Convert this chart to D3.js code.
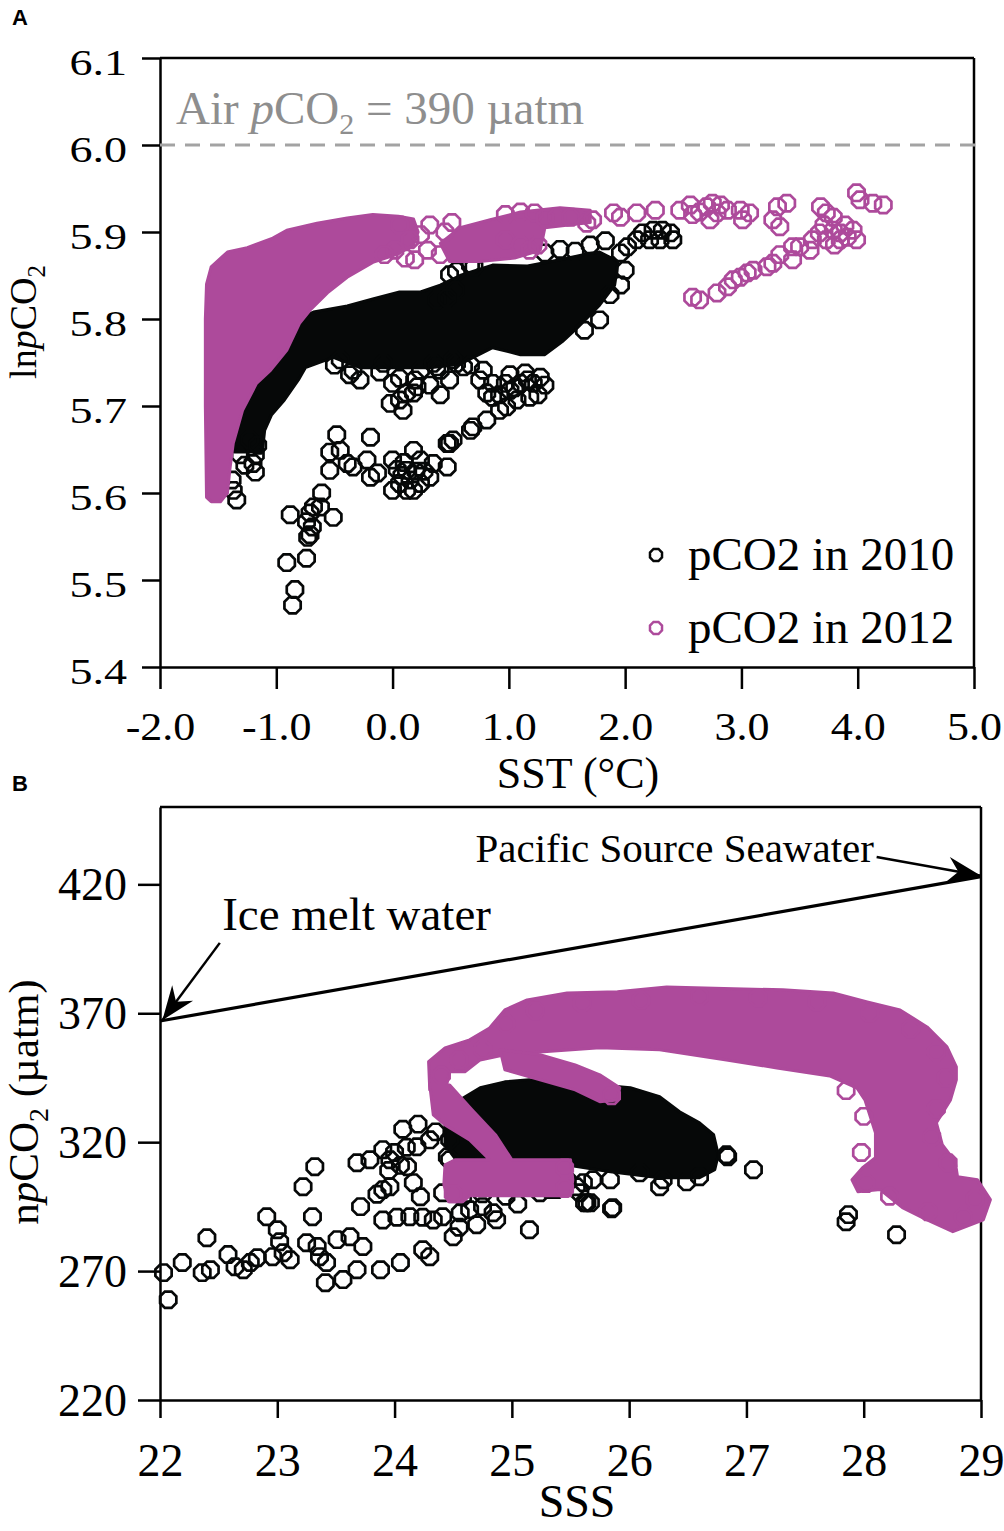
<!DOCTYPE html>
<html>
<head>
<meta charset="utf-8">
<script src="https://d3js.org/d3.v7.min.js"></script>
<style>
  body { margin: 0; background: #fff; }
  svg text { font-family: "Liberation Serif", "Times New Roman", serif; }
</style>
</head>
<body>
<svg id="chart" width="1004" height="1531"></svg>
<script>
// ---- tick values ----
var sstTicks = [-2, -1, 0, 1, 2, 3, 4, 5];
var lnTicks = [5.4, 5.5, 5.6, 5.7, 5.8, 5.9, 6.0, 6.1];
var sssTicks = [22, 23, 24, 25, 26, 27, 28, 29];
var npTicks = [220, 270, 320, 370, 420];

var airLnPCO2 = 6.0;                    // ln(390)
var mixLine = [[22, 367], [29, 423]];   // ice melt -> pacific end members

// ---- panel A: SST vs lnpCO2 ----
// outline of the solid (overplotted) part of each cloud
var coreA2010 = [[-1.36,5.647],[-1.12,5.647],[-1.10,5.672],[-1.04,5.690],[-0.93,5.707],[-0.81,5.730],[-0.75,5.744],
  [-0.51,5.756],[-0.28,5.744],[0.02,5.744],[0.32,5.744],[0.58,5.748],[0.86,5.767],[1.10,5.759],[1.31,5.759],
  [1.46,5.774],[1.59,5.790],[1.78,5.816],[1.91,5.839],[1.94,5.866],[1.78,5.877],[1.68,5.875],[1.44,5.868],
  [1.16,5.861],[0.86,5.862],[0.58,5.850],[0.41,5.839],[0.24,5.831],[0.06,5.831],[-0.17,5.823],[-0.39,5.815],
  [-0.68,5.808],[-0.80,5.801],[-0.88,5.782],[-1.01,5.759],[-1.12,5.736],[-1.23,5.713],[-1.31,5.695],[-1.37,5.672]];
var coreA2012a = [[-1.60,5.595],[-1.61,5.70],[-1.61,5.80],[-1.60,5.84],[-1.56,5.86],[-1.42,5.877],[-1.25,5.882],
  [-1.03,5.893],[-0.91,5.902],[-0.65,5.91],[-0.39,5.916],[-0.17,5.92],[0.05,5.918],[0.18,5.915],[0.22,5.90],
  [0.18,5.885],[0.05,5.875],[-0.17,5.865],[-0.39,5.848],[-0.56,5.83],[-0.71,5.81],[-0.80,5.795],[-0.91,5.764],
  [-1.05,5.741],[-1.17,5.726],[-1.29,5.695],[-1.37,5.657],[-1.40,5.626],[-1.42,5.60],[-1.48,5.59],[-1.56,5.59]];
var coreA2012b = [[0.41,5.887],[0.58,5.905],[0.84,5.914],[1.10,5.923],[1.44,5.928],[1.70,5.925],[1.70,5.911],
  [1.31,5.905],[1.27,5.879],[1.05,5.87],[0.75,5.866],[0.49,5.866]];

var ptsA2010 = [[-1.34,5.592],[-1.37,5.603],[-1.38,5.615],[-1.18,5.624],[-1.20,5.634],[-1.27,5.632],[-1.31,5.644],
  [-1.18,5.644],[-1.23,5.661],[-1.16,5.655],
  [-0.88,5.575],[-0.74,5.567],[-0.69,5.561],[-0.71,5.552],[-0.73,5.549],[-0.74,5.525],[-0.91,5.520],[-0.84,5.489],
  [-0.86,5.471],[-0.71,5.577],[-0.68,5.584],[-0.61,5.600],[-0.62,5.584],[-0.54,5.626],[-0.51,5.572],[-0.48,5.667],
  [-0.54,5.647],[-0.45,5.649],[-0.39,5.634],[-0.34,5.630],[-0.19,5.664],[-0.22,5.638],[-0.19,5.618],[-0.13,5.623],
  [0.00,5.638],[0.00,5.603],[0.06,5.611],[0.12,5.626],[0.18,5.649],[0.24,5.638],[0.24,5.611],[0.32,5.618],
  [0.35,5.634],[0.47,5.630],[0.49,5.657],[0.12,5.603],[0.18,5.603],[0.08,5.62],[0.15,5.615],[0.20,5.625],
  [0.10,5.635],[0.27,5.625],[0.04,5.627],
  [0.67,5.672],[0.81,5.684],[0.86,5.710],[0.92,5.695],[1.01,5.718],[1.10,5.726],[1.21,5.726],[1.27,5.733],
  [1.07,5.707],[1.18,5.710],[0.98,5.699],[0.92,5.713],[1.05,5.721],[1.14,5.738],[1.31,5.724],[1.25,5.713],
  [1.01,5.736],[0.97,5.726],[1.16,5.730],[0.69,5.676],[0.47,5.657],[0.52,5.661],
  [-0.45,5.753],[-0.34,5.741],[-0.28,5.730],[-0.08,5.749],[0.00,5.726],[0.06,5.707],[0.09,5.695],[0.18,5.715],
  [0.24,5.741],[0.35,5.749],[0.41,5.741],[0.55,5.749],[0.61,5.745],[0.78,5.741],[0.81,5.715],[0.86,5.726],
  [-0.02,5.703],[0.12,5.715],[0.21,5.722],[0.38,5.745],[0.52,5.753],
  [-0.50,5.747],[-0.37,5.736],[-0.11,5.739],[0.06,5.732],[0.19,5.730],[0.32,5.724],[0.41,5.713],[0.49,5.730],
  [0.67,5.747],[0.75,5.730],
  [1.96,5.876],[2.02,5.883],[2.10,5.891],[2.15,5.899],[2.24,5.902],[2.32,5.902],[2.39,5.899],[2.41,5.891],
  [2.30,5.891],[2.21,5.891],[2.00,5.856],[1.96,5.839],[1.87,5.828],[1.78,5.799],[1.65,5.787],
  [1.31,5.876],[1.44,5.88],[1.57,5.878],[1.70,5.885],[1.83,5.89],[0.55,5.855],[0.70,5.86],[0.67,5.862],
  [0.49,5.851],[0.54,5.833],[0.38,5.822],[0.47,5.824]];

var ptsA2012 = [[0.24,5.897],[0.32,5.908],[0.30,5.879],[0.41,5.874],[0.19,5.868],[0.45,5.90],[0.51,5.911],
  [0.06,5.908],[0.15,5.891],[0.02,5.879],[0.11,5.870],[-0.07,5.874],
  [0.97,5.891],[1.10,5.885],[1.18,5.879],[1.25,5.885],
  [0.97,5.92],[1.10,5.923],[1.22,5.922],[1.31,5.916],[1.41,5.917],[1.53,5.917],[1.67,5.910],[1.72,5.914],
  [1.90,5.922],[1.96,5.917],[2.10,5.922],[2.26,5.925],[2.47,5.925],[2.58,5.920],[2.70,5.929],[2.79,5.922],
  [2.75,5.933],[2.88,5.925],[2.99,5.925],[3.07,5.922],[3.01,5.914],[2.56,5.931],[2.64,5.923],[2.73,5.914],
  [2.82,5.931],[3.31,5.929],[3.39,5.933],[3.27,5.914],[3.33,5.906],
  [3.68,5.929],[3.99,5.945],[4.02,5.937],[4.13,5.933],[4.22,5.931],
  [2.58,5.825],[2.64,5.822],[2.79,5.830],[2.88,5.837],[2.93,5.845],[2.99,5.848],[3.05,5.853],[3.10,5.856],
  [3.22,5.860],[3.27,5.864],[3.44,5.868],[3.44,5.883],[3.50,5.883],[3.61,5.891],[3.67,5.899],[3.73,5.891],
  [3.79,5.902],[3.85,5.899],[3.91,5.894],[3.96,5.902],[3.99,5.891],[3.79,5.917],[3.73,5.922],[3.71,5.908],
  [3.85,5.891],[3.80,5.885],[3.89,5.908],[3.59,5.879],[3.33,5.874]];

// ---- panel B: SSS vs npCO2 ----
var coreB2010 = [[24.43,328.7],[24.56,336.4],[24.73,341.1],[24.94,343.4],[25.15,344.2],[25.41,343.0],[25.75,342.2],
  [26.01,341.1],[26.26,337.6],[26.43,331.8],[26.60,327.5],[26.72,322.9],[26.76,315.1],[26.73,309.3],[26.60,306.2],
  [26.26,306.2],[25.84,308.5],[25.50,310.9],[25.24,312.4],[24.98,313.2],[24.73,313.2],[24.51,314.0],[24.43,319.0]];
var coreB2012arch = [[24.30,340.3],[24.29,351.2],[24.43,356.6],[24.64,359.7],[24.81,364.3],[24.94,371.3],[25.13,375.2],
  [25.47,377.9],[25.90,378.3],[26.32,380.2],[26.89,379.5],[27.31,379.1],[27.74,377.9],[28.03,374.4],[28.31,371.3],
  [28.54,364.7],[28.71,357.0],[28.79,349.2],[28.79,344.2],[28.74,336.4],[28.62,327.5],[28.67,319.0],[28.78,312.4],
  [28.80,306.6],[28.97,305.4],[29.08,297.7],[29.02,289.9],[28.76,285.3],[28.54,289.9],[28.33,294.6],[28.14,301.6],
  [27.95,300.8],[27.90,305.4],[27.99,310.1],[28.10,314.0],[28.10,323.6],[28.01,336.4],[27.94,341.1],[27.71,345.7],
  [27.26,348.8],[26.83,351.9],[26.26,355.8],[25.75,356.6],[25.24,355.0],[24.94,353.9],[24.73,351.9],[24.60,347.3],
  [24.47,347.3],[24.43,339.5]];
var coreB2012branch = [[24.90,355.8],[25.24,353.9],[25.54,350.0],[25.75,346.1],[25.92,341.1],[25.90,336.4],
  [25.75,335.7],[25.54,340.3],[25.24,344.2],[24.94,348.1]];
var coreB2012hook = [[24.30,342.2],[24.47,342.2],[24.66,332.6],[24.86,322.9],[25.00,313.2],[25.50,313.2],[25.52,305.4],
  [25.50,299.2],[24.64,299.2],[24.58,296.9],[24.46,296.9],[24.42,303.5],[24.43,311.2],[24.52,313.2],[24.81,313.2],
  [24.64,320.9],[24.43,326.7],[24.33,330.6]];

var ptsB2010 = [[22.03,269.4],[22.07,258.9],[22.19,273.3],[22.36,269.4],[22.43,270.5],[22.40,282.9],[22.58,276.4],
  [22.64,271.7],[22.71,270.5],[22.77,273.3],[22.83,275.2],[22.91,291.1],[23.00,286.0],[23.02,281.4],[22.96,275.6],
  [23.05,277.1],[23.11,274.4],[23.22,302.7],[23.30,291.1],[23.32,310.5],[23.25,281.0],[23.34,279.5],[23.36,275.6],
  [23.42,273.3],[23.41,265.5],[23.56,266.7],[23.68,270.5],[23.51,282.2],[23.62,283.3],[23.73,279.5],[23.88,270.5],
  [24.05,273.3],[23.71,295.0],[23.68,312.0],[23.79,313.2],[23.90,317.1],[23.96,313.2],[23.90,301.6],[23.96,302.7],
  [23.85,299.8],[23.90,289.8],[24.02,290.9],[24.13,291.1],[24.24,290.9],[24.33,289.8],[24.16,304.3],[24.22,298.8],
  [24.19,318.2],[24.30,320.9],[24.11,310.5],[24.24,278.3],[24.30,275.6],[24.41,291.1],[24.50,283.3],[24.56,292.6],
  [24.64,293.8],[24.75,295.0],[24.84,292.6],[24.87,289.9],[25.15,286.0],[24.41,300.4],[24.58,298.8],[24.92,305.4],
  [25.32,301.6],[25.61,304.3],[25.64,296.5],[24.45,314.3],[24.47,313.2],[24.64,310.5],
  [24.07,325.0],[24.20,327.0],[24.35,324.0],[24.47,321.0],[24.00,316.0],[24.10,318.0],[23.95,309.0],[24.05,311.0],
  [24.60,302.0],[24.75,300.0],[24.95,299.0],[25.05,296.0],[24.70,288.0],[24.55,287.0],
  [27.85,289.1],[27.87,291.9],[28.28,284.1],[27.06,309.3],[25.85,294.2],[26.84,314.3],[26.83,315.1],
  [25.62,296.5],[25.86,294.6],[26.26,302.7],[26.09,308.1],[26.49,304.6],[26.60,306.6],
  [25.55,302.7],[25.69,305.4],[25.84,305.4],[26.29,305.4],[25.04,304.3],[25.24,300.4],[25.38,301.6],[25.47,305.4],
  [25.58,300.4],[25.67,296.5]];

var ptsB2012 = [[24.40,346],[24.55,352],[24.75,356],[24.95,366],[25.2,371],[25.6,374],[26.1,375],[26.6,376.5],
  [27.1,376],[27.6,374.5],[28.05,370],[28.4,364],[28.62,355],[28.7,345],[28.62,333],[28.58,322],[28.72,312],
  [28.95,298],[28.85,291],[28.55,293],[28.22,299],[28.02,304],[27.98,316],[28.0,330],[27.85,340],[24.50,300],
  [25.45,302],[25.45,310],[25.85,338]];

// ---- legend / annotation text ----
var seriesNames = ["pCO2 in 2010", "pCO2 in 2012"];
var notesB = [
  {text: "Ice melt water", size: 47, tx: 22.53, ty: 402.3, from: [22.51, 397.3], to: [22.02, 367.3]},
  {text: "Pacific Source Seawater", size: 41, tx: 24.69, ty: 428.7, from: [28.11, 430.6], to: [29.0, 423.3]}
];

var C2010 = "#060808", C2012 = "#ad4a9b";
var svg = d3.select("#chart");

function octagon(r) {
  var p = [];
  for (var k = 0; k < 8; k++) {
    var a = Math.PI / 8 + k * Math.PI / 4;
    p.push((r * Math.cos(a)).toFixed(2) + "," + (r * Math.sin(a)).toFixed(2));
  }
  return "M" + p.join("L") + "Z";
}
var oct = octagon(8.8);
var fmt1 = function (d) { return d.toFixed(1); };   // plain hyphen for negatives

var defs = svg.append("defs");
defs.append("marker").attr("id", "arrow").attr("markerUnits", "userSpaceOnUse")
  .attr("viewBox", "-36 -16 38 32").attr("refX", 0).attr("refY", 0)
  .attr("markerWidth", 38).attr("markerHeight", 32).attr("orient", "auto")
  .append("path").attr("d", "M0,0L-34,-13L-23,0L-34,13Z").attr("fill", "#000");

function stretchText(sel, k) {
  sel.each(function () {
    var w = this.getComputedTextLength();
    d3.select(this).attr("textLength", w * k).attr("lengthAdjust", "spacingAndGlyphs");
  });
}

function drawAxes(x, y, o) {
  var g = svg.append("g");
  var x0 = x.range()[0], x1 = x.range()[1], y0 = y.range()[0], y1 = y.range()[1];
  g.append("line").attr("x1", x0).attr("x2", x1).attr("y1", y1).attr("y2", y1)
    .attr("stroke", "#000").attr("stroke-width", 2.5);
  g.append("line").attr("x1", x1).attr("x2", x1).attr("y1", y0).attr("y2", y1)
    .attr("stroke", "#000").attr("stroke-width", 2.5);

  var gx = g.append("g").attr("transform", "translate(0," + y0 + ")")
    .call(d3.axisBottom(x).tickValues(o.xt).tickFormat(o.xf).tickSize(o.xTick).tickSizeOuter(0));
  var gy = g.append("g").attr("transform", "translate(" + x0 + ",0)")
    .call(d3.axisLeft(y).tickValues(o.yt).tickFormat(o.yf).tickSize(o.yTick).tickSizeOuter(0));
  [gx, gy].forEach(function (a) {
    a.selectAll("path, line").attr("stroke", "#000").attr("stroke-width", 2.5);
    a.selectAll("text").attr("fill", "#000")
      .style("font-family", '"Liberation Serif", "Times New Roman", serif');
  });
  gx.selectAll("text").attr("y", o.xLab).attr("dy", 0).style("font-size", o.xFont + "px");
  gy.selectAll("text").attr("x", -33).attr("dy", o.yDy).style("font-size", o.yFont + "px");
  if (o.xStretch) stretchText(gx.selectAll("text"), o.xStretch);
  if (o.yStretch) stretchText(gy.selectAll("text"), o.yStretch);
}

function drawCloud(g, x, y, cores, pts, color) {
  var line = d3.line().x(function (d) { return x(d[0]); }).y(function (d) { return y(d[1]); })
    .curve(d3.curveLinearClosed);
  g.selectAll(null).data(cores).enter().append("path")
    .attr("d", line).attr("fill", color).attr("stroke", color)
    .attr("stroke-width", 3).attr("stroke-linejoin", "round");
  g.selectAll(null).data(pts).enter().append("path")
    .attr("d", oct)
    .attr("transform", function (d) { return "translate(" + x(d[0]) + "," + y(d[1]) + ")"; })
    .attr("fill", "none").attr("stroke", color).attr("stroke-width", 2.7);
}

// =============== Panel A ===============
var xA = d3.scaleLinear().domain([-2, 5]).range([160, 974]);
var yA = d3.scaleLinear().domain([5.4, 6.1]).range([667, 58]);

drawAxes(xA, yA, {
  xt: sstTicks, yt: lnTicks, xf: fmt1, yf: fmt1,
  xTick: 22, yTick: 18, xLab: 73, yDy: 16, xFont: 40, yFont: 36, xStretch: 1.1, yStretch: 1.28
});

var gA = svg.append("g");
gA.append("line")
  .attr("x1", xA(-2)).attr("x2", xA(5) + 4)
  .attr("y1", yA(airLnPCO2)).attr("y2", yA(airLnPCO2))
  .attr("stroke", "#a3a3a3").attr("stroke-width", 3).attr("stroke-dasharray", "15,10");
var air = gA.append("text").attr("x", xA(-2) + 16).attr("y", yA(airLnPCO2) - 21)
  .attr("fill", "#8e8e8e").style("font-size", "47px");
air.append("tspan").text("Air ");
air.append("tspan").style("font-style", "italic").text("p");
air.append("tspan").text("CO");
air.append("tspan").attr("dy", 10).style("font-size", "30px").text("2");
air.append("tspan").attr("dy", -10).text(" = 390 \u00b5atm");

drawCloud(gA.append("g"), xA, yA, [coreA2010], ptsA2010, C2010);
drawCloud(gA.append("g"), xA, yA, [coreA2012a, coreA2012b], ptsA2012, C2012);

// legend
var leg = svg.append("g");
[C2010, C2012].forEach(function (c, i) {
  leg.append("path").attr("d", octagon(6.5))
    .attr("transform", "translate(656," + (555 + i * 73) + ")")
    .attr("fill", "none").attr("stroke", c).attr("stroke-width", 2.5);
  leg.append("text").attr("x", 688).attr("y", 570 + i * 73)
    .style("font-size", "47px").attr("fill", "#000").text(seriesNames[i]);
});

svg.append("text").attr("x", 578).attr("y", 788).attr("text-anchor", "middle")
  .style("font-size", "44px").text("SST (\u00b0C)");
var tA = svg.append("text").attr("transform", "translate(36,322) rotate(-90)")
  .attr("text-anchor", "middle").style("font-size", "38px");
tA.append("tspan").text("ln");
tA.append("tspan").style("font-style", "italic").text("p");
tA.append("tspan").text("CO");
tA.append("tspan").attr("dy", 9).style("font-size", "25px").text("2");

svg.append("text").attr("x", 12).attr("y", 25).style("font-family", '"Liberation Sans", Arial, sans-serif')
  .style("font-weight", "bold").style("font-size", "22px").text("A");

// =============== Panel B ===============
var xB = d3.scaleLinear().domain([22, 29]).range([160, 981]);
var yB = d3.scaleLinear().domain([220, 450]).range([1400, 807]);

drawAxes(xB, yB, {
  xt: sssTicks, yt: npTicks, xf: d3.format("d"), yf: d3.format("d"),
  xTick: 18, yTick: 22, xLab: 76, yDy: 15, xFont: 46, yFont: 46
});

var gB = svg.append("g");
gB.append("path").datum(mixLine)
  .attr("d", d3.line().x(function (d) { return xB(d[0]); }).y(function (d) { return yB(d[1]); }))
  .attr("fill", "none").attr("stroke", "#000").attr("stroke-width", 3.2);

drawCloud(gB.append("g"), xB, yB, [coreB2010], ptsB2010, C2010);
drawCloud(gB.append("g"), xB, yB, [coreB2012arch, coreB2012branch, coreB2012hook], ptsB2012, C2012);

notesB.forEach(function (n) {
  gB.append("text").attr("x", xB(n.tx)).attr("y", yB(n.ty))
    .style("font-size", n.size + "px").attr("fill", "#000").text(n.text);
  gB.append("line")
    .attr("x1", xB(n.from[0])).attr("y1", yB(n.from[1]))
    .attr("x2", xB(n.to[0])).attr("y2", yB(n.to[1]))
    .attr("stroke", "#000").attr("stroke-width", 2.5).attr("marker-end", "url(#arrow)");
});

svg.append("text").attr("x", 577).attr("y", 1517).attr("text-anchor", "middle")
  .style("font-size", "46px").text("SSS");
var tB = svg.append("text").attr("transform", "translate(38,1102) rotate(-90)")
  .attr("text-anchor", "middle").style("font-size", "43px");
tB.append("tspan").text("n");
tB.append("tspan").style("font-style", "italic").text("p");
tB.append("tspan").text("CO");
tB.append("tspan").attr("dy", 10).style("font-size", "28px").text("2");
tB.append("tspan").attr("dy", -10).text(" (\u00b5atm)");

svg.append("text").attr("x", 12).attr("y", 791).style("font-family", '"Liberation Sans", Arial, sans-serif')
  .style("font-weight", "bold").style("font-size", "22px").text("B");
</script>
</body>
</html>
